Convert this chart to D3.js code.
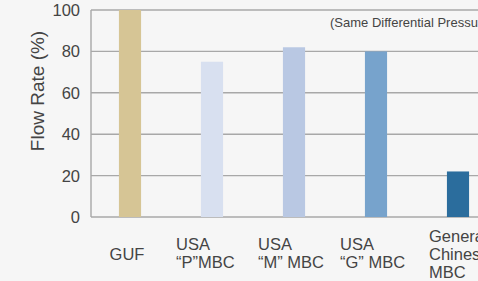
<!DOCTYPE html>
<html><head><meta charset="utf-8">
<script src="https://cdn.jsdelivr.net/npm/d3@7"></script>
<style>
html,body{margin:0;padding:0;background:#f6f6f6;overflow:hidden;}
svg{display:block;font-family:"Liberation Sans",Arial,Helvetica,sans-serif;}
</style></head>
<body>
<svg id="c" width="478" height="281"></svg>
<script>
const categories = ["GUF", "USA\n\u201cP\u201dMBC", "USA\n\u201cM\u201d MBC", "USA\n\u201cG\u201d MBC", "General\nChinese\nMBC"];
const values = [100, 75, 82, 80, 22];
const colors = ["#d6c595", "#d8e0f0", "#b9c8e3", "#77a3cc", "#2b6d9d"];
const yTicks = [0, 20, 40, 60, 80, 100];
const yTitle = "Flow Rate (%)";
const note = "(Same Differential Pressure)";

const svg = d3.select("#c");
const x = d3.scaleBand().domain(categories).range([89, 499]).paddingInner(0.73).paddingOuter(0.365);
const y = d3.scaleLinear().domain([0, 100]).range([217, 10]);

// gridlines
svg.append("g").selectAll("line").data(yTicks).join("line")
  .attr("x1", 91).attr("x2", 478)
  .attr("y1", d => y(d)).attr("y2", d => y(d))
  .attr("stroke", "#a8a8a8").attr("stroke-width", 1.4);

// y axis line
svg.append("line").attr("x1", 91).attr("x2", 91).attr("y1", y(100)).attr("y2", y(0))
  .attr("stroke", "#a8a8a8").attr("stroke-width", 1.4);

// bars
svg.append("g").selectAll("rect").data(categories).join("rect")
  .attr("x", d => x(d)).attr("width", x.bandwidth())
  .attr("y", (d, i) => y(values[i])).attr("height", (d, i) => y(0) - y(values[i]))
  .attr("fill", (d, i) => colors[i]);

// y tick labels
svg.append("g").selectAll("text").data(yTicks).join("text")
  .attr("x", 80).attr("y", d => y(d)).attr("dy", "0.36em")
  .attr("text-anchor", "end").attr("font-size", 16.5).attr("fill", "#444")
  .text(d => d);

// y title
svg.append("text").attr("transform", "translate(44,91) rotate(-90)")
  .attr("text-anchor", "middle").attr("font-size", 19).attr("fill", "#444")
  .text(yTitle);

// note
svg.append("text").attr("x", 330).attr("y", 27).attr("font-size", 13).attr("fill", "#444").text(note);

// category labels
const lab = svg.append("g");
categories.forEach((c, i) => {
  const lines = c.split("\n");
  const cx = x(c) + x.bandwidth() / 2;
  const t = lab.append("text").attr("font-size", 16.5).attr("fill", "#444");
  if (lines.length === 1) {
    t.attr("x", cx - 3).attr("y", 260).attr("text-anchor", "middle").text(lines[0]);
  } else {
    const left = [175, 260, 343, 428][i - 1] !== undefined ? null : null;
    const x0 = cx - 36 + (i === 4 ? 7 : 0);
    const firstY = lines.length === 2 ? 249.5 : 242;
    lines.forEach((l, k) => {
      t.append("tspan").attr("x", x0).attr("y", firstY + k * 18).text(l);
    });
  }
});
</script>
</body></html>
